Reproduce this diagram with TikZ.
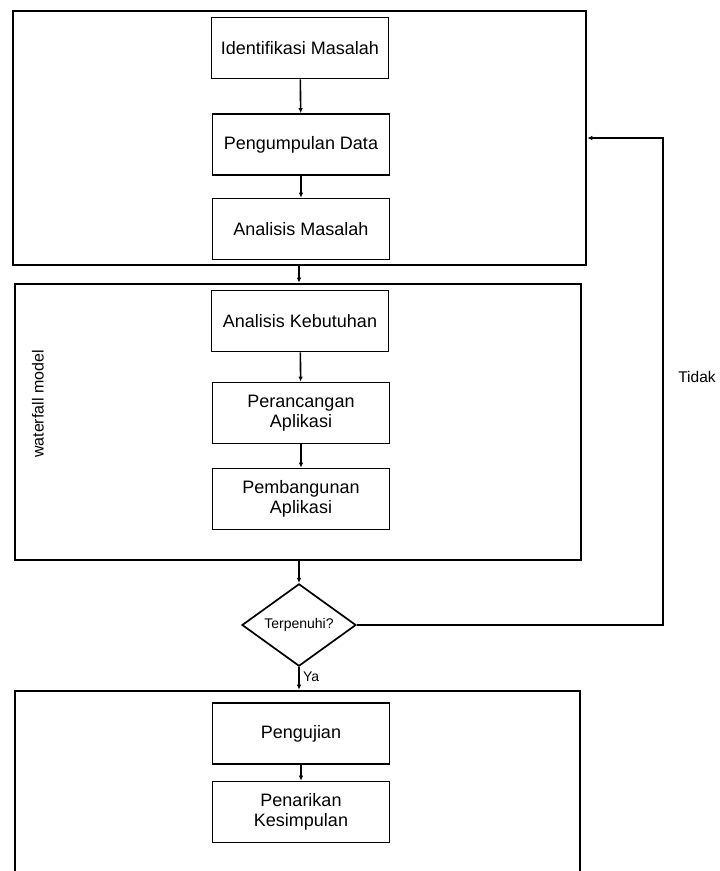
\documentclass[tikz,border=0pt]{standalone}
\usepackage{fontspec}
\setmainfont{Liberation Sans}
\usetikzlibrary{shapes.geometric,arrows.meta}

\tikzset{
  fase/.style={draw, line width=2.6pt, minimum width=#1, inner sep=0pt},
  tahap/.style={draw, line width=1.7pt, minimum width=177pt, minimum height=61pt,
    align=center, inner sep=0pt, font=\fontsize{18}{20}\selectfont},
  keputusan/.style={draw, diamond, line width=1.7pt, minimum width=114pt,
    minimum height=76pt, inner sep=0pt, font=\fontsize{14}{16}\selectfont},
  alur/.style={line width=1.6pt, -{Latex[length=5pt,width=4.5pt]}}
}

\begin{document}
\begin{tikzpicture}[x=1pt, y=-1pt]
  \useasboundingbox (0,0) rectangle (720,871);

  % -- Fase 1 --
  \node[fase=573pt, minimum height=254pt] (fase1) at (299.5,138) {};
  \node[tahap] (idm) at (300,48) {Identifikasi Masalah};
  \node[tahap] (pd) at (301,144.5) {Pengumpulan Data};
  \node[tahap] (am) at (301,229) {Analisis Masalah};

  % -- Fase 2 (waterfall) --
  \node[fase=566pt, minimum height=276pt] (fase2) at (298,422) {};
  \node[rotate=90, font=\fontsize{16}{18}\selectfont] (wf) at (38,404) {waterfall model};
  \node[tahap] (ak) at (300,321) {Analisis Kebutuhan};
  \node[tahap] (pa) at (301,413) {Perancangan\\Aplikasi};
  \node[tahap] (pb) at (301,499) {Pembangunan\\Aplikasi};

  % -- Keputusan --
  \node[keputusan] (cek) at (299,625) {Terpenuhi?};

  % -- Fase 3 (bagian bawah terpotong) --
  \node[fase=565pt, minimum height=200pt] (fase3) at (297.5,791) {};
  \node[tahap] (pj) at (301,733.5) {Pengujian};
  \node[tahap] (pk) at (301,812) {Penarikan\\Kesimpulan};

  % -- Alur --
  \draw[alur] (idm) -- (pd);
  \draw[alur] (pd) -- (am);
  \draw[alur] (fase1.south -| cek.north) -- (fase2.north -| cek.north);
  \draw[alur] (ak) -- (pa);
  \draw[alur] (pa) -- (pb);
  \draw[alur] (fase2.south -| cek.north) -- (cek.north);
  \draw[alur] (cek.south) -- (fase3.north -| cek.south)
    node[pos=0.45, right, font=\fontsize{14}{16}\selectfont] (ya) {Ya};
  \draw[alur] (pj) -- (pk);

  % -- Kembali jika tidak terpenuhi --
  \coordinate (balik) at (663,625);
  \draw[alur] (cek.east) -- (balik) -- (balik |- fase1.east) -- (fase1.east);
  \node[font=\fontsize{15.5}{17}\selectfont] (tidak) at (697,377) {Tidak};

\end{tikzpicture}
\end{document}
